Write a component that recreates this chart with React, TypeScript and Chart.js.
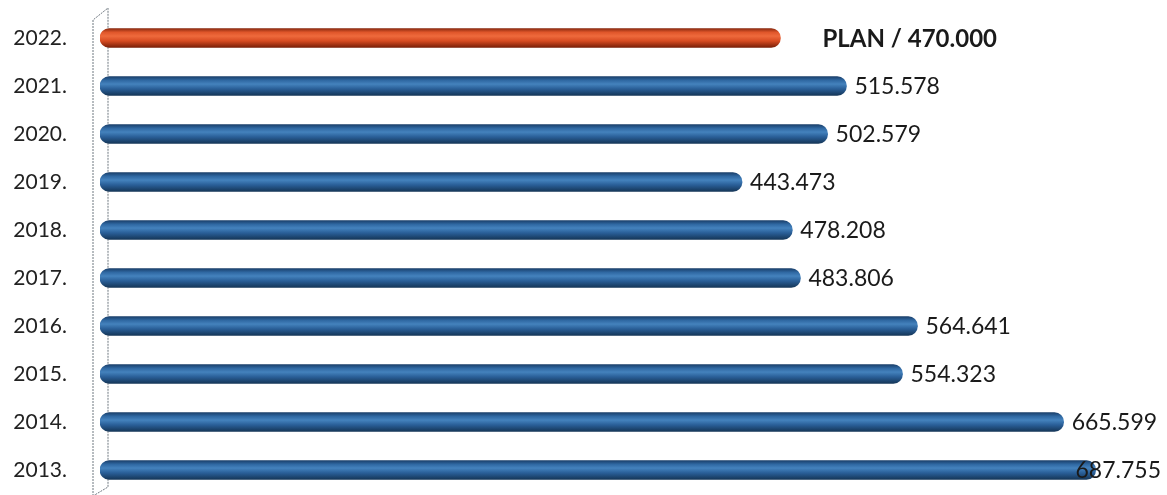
import React, { useEffect, useRef } from "react";
import { Chart, registerables } from "chart.js";

Chart.register(...registerables);

const years = ["2022.", "2021.", "2020.", "2019.", "2018.", "2017.", "2016.", "2015.", "2014.", "2013."];
const values = [470000, 515578, 502579, 443473, 478208, 483806, 564641, 554323, 665599, 687755];
const valueLabels = ["PLAN / 470.000", "515.578", "502.579", "443.473", "478.208", "483.806", "564.641", "554.323", "665.599", "687.755"];
const isPlan = [true, false, false, false, false, false, false, false, false, false];

const FONT = "Lato, 'Open Sans', sans-serif";

function barGradient(ctx: CanvasRenderingContext2D, yc: number, half: number, plan: boolean) {
  const g = ctx.createLinearGradient(0, yc - half, 0, yc + half);
  if (plan) {
    g.addColorStop(0, "#8a2a10");
    g.addColorStop(0.2, "#e0562a");
    g.addColorStop(0.4, "#ee6a3c");
    g.addColorStop(0.65, "#d84c22");
    g.addColorStop(1, "#7a2008");
  } else {
    g.addColorStop(0, "#1a3f6a");
    g.addColorStop(0.2, "#2f68a2");
    g.addColorStop(0.4, "#4482bd");
    g.addColorStop(0.65, "#2a5f98");
    g.addColorStop(1, "#153658");
  }
  return g;
}

export default function App() {
  const ref = useRef<HTMLCanvasElement | null>(null);
  useEffect(() => {
    if (!ref.current) return;
    const wallPlugin = {
      id: "wall",
      beforeDatasetsDraw(chart: any) {
        const { ctx, chartArea } = chart;
        const l = chartArea.left;
        ctx.save();
        ctx.strokeStyle = "#6f7880";
        ctx.lineWidth = 1;
        ctx.setLineDash([2, 1]);
        ctx.beginPath();
        ctx.moveTo(l - 7, chartArea.bottom + 2);
        ctx.lineTo(l - 7, chartArea.top + 6);
        ctx.lineTo(l + 8, chartArea.top - 6);
        ctx.lineTo(l + 8, chartArea.bottom - 7);
        ctx.lineTo(l - 7, chartArea.bottom + 2);
        ctx.stroke();
        ctx.restore();
      },
    };
    const labelPlugin = {
      id: "vlabels",
      afterDatasetsDraw(chart: any) {
        const { ctx } = chart;
        const meta = chart.getDatasetMeta(0);
        ctx.save();
        ctx.textBaseline = "middle";
        ctx.textAlign = "left";
        meta.data.forEach((bar: any, i: number) => {
          const plan = isPlan[i];
          ctx.font = plan ? `bold 24px ${FONT}` : `23px ${FONT}`;
          ctx.fillStyle = "#1a1a1a";
          const w = ctx.measureText(valueLabels[i]).width;
          let x = bar.x + (plan ? 42 : 8);
          x = Math.min(x, chart.width - w - 6);
          ctx.fillText(valueLabels[i], x, bar.y + 1);
        });
        ctx.restore();
      },
    };
    const chart = new Chart(ref.current, {
      type: "bar",
      data: {
        labels: years,
        datasets: [
          {
            data: values,
            barThickness: 19,
            borderRadius: 9.5,
            borderSkipped: false,
            borderWidth: 0,
            backgroundColor: (c: any) => {
              const ch = c.chart;
              const plan = isPlan[c.dataIndex];
              const y = ch.scales?.y;
              const yc = y ? y.getPixelForValue(c.dataIndex) : NaN;
              if (!Number.isFinite(yc)) return plan ? "#e0522a" : "#2e6aa6";
              return barGradient(ch.ctx, yc, 9.5, plan);
            },
          },
        ],
      },
      options: {
        indexAxis: "y",
        animation: false,
        responsive: false,
        maintainAspectRatio: false,
        layout: { padding: { top: 14, bottom: 1, right: 0, left: 0 } },
        plugins: { legend: { display: false }, tooltip: { enabled: false } },
        scales: {
          x: {
            min: 0,
            max: 737000,
            display: false,
          },
          y: {
            afterFit: (s: any) => {
              s.width = 100;
              s.paddingTop = 0;
              s.paddingBottom = 0;
            },
            grid: { display: false, drawTicks: false },
            border: { display: false },
            ticks: {
              padding: 33,
              color: "#222",
              font: { family: FONT, size: 21 },
            },
          },
        },
      },
      plugins: [wallPlugin, labelPlugin],
    } as any);
    return () => chart.destroy();
  }, []);
  return (
    <div style={{ position: "fixed", left: 0, top: 0, width: 1167, height: 495, background: "#fff" }}>
      <canvas ref={ref} width={1167} height={495} style={{ width: 1167, height: 495 }} />
    </div>
  );
}
